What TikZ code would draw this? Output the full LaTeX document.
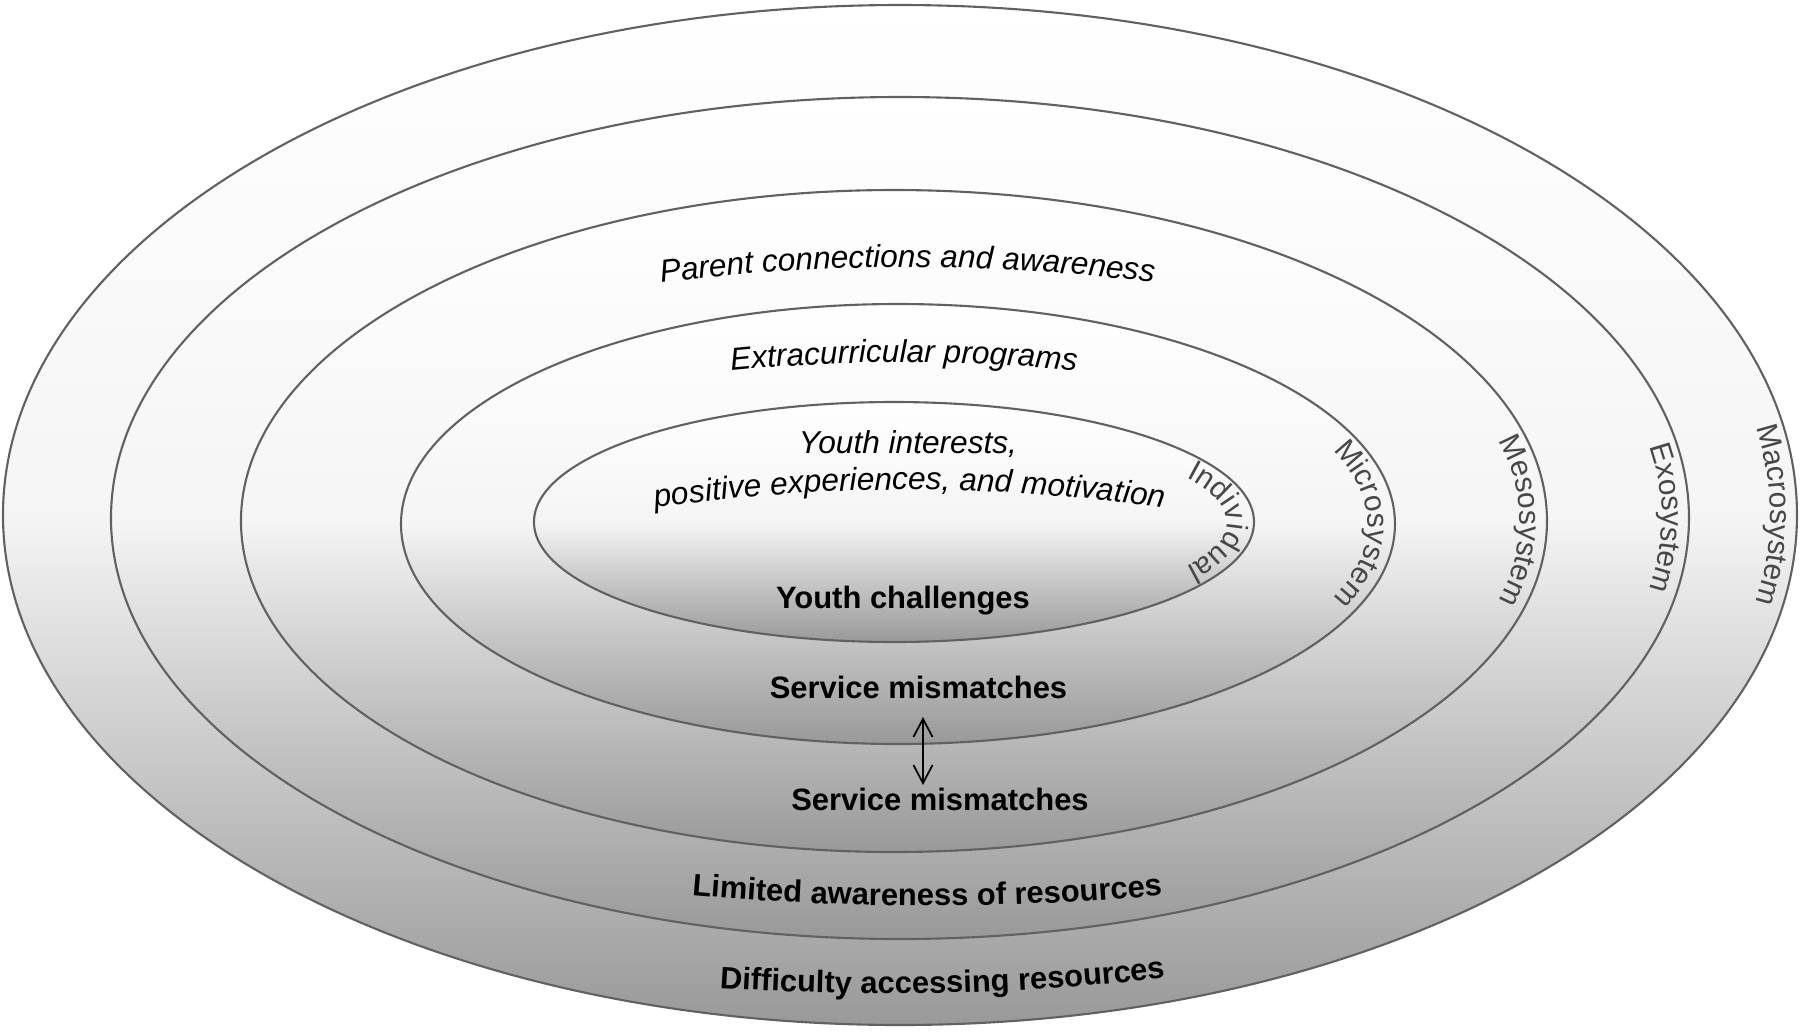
\documentclass[tikz,border=0pt]{standalone}
\usepackage{fontspec}
\setmainfont{Liberation Sans}
\usetikzlibrary{decorations.text,arrows.meta}

\newcommand{\itfont}{\fontsize{9}{10}\selectfont\itshape}
\newcommand{\bffont}{\fontsize{8.8}{10}\selectfont\bfseries}
\newcommand{\sysfont}{\fontsize{8.5}{10}\selectfont\color{black!72}}

\tikzset{
  ring/.style={draw=black!62, line width=0.6pt, top color=white, bottom color=black!40, middle color=black!4},
  arctext/.style={decorate, decoration={text along path, text align=center, text={#1}}},
  syslabel/.style={decorate, decoration={text along path, text align=center, text={|\sysfont|#1}}}
}

\begin{document}
\begin{tikzpicture}
	\useasboundingbox (-8.97, -5.12) rectangle (9.03, 5.20);
	\coordinate (Macro) at (0.03, 0.05);
	\coordinate (Exo) at (0.03, 0.02);
	\coordinate (Meso) at (-0.03, -0.01);
	\coordinate (Micro) at (0.01, -0.04);
	\coordinate (Indiv) at (-0.03, -0.02);
	
	% the five systems
	\draw[ring] (Macro) ellipse [x radius=8.97, y radius=5.10];
	\draw[ring] (Exo) ellipse [x radius=7.89, y radius=4.21];
	\draw[ring] (Meso) ellipse [x radius=6.53, y radius=3.31];
	\draw[ring] (Micro) ellipse [x radius=4.97, y radius=2.20];
	\draw[ring] (Indiv) ellipse [x radius=3.60, y radius=1.20];
	
	% names along the right side
	\path[syslabel=Macrosystem] (0.03, 4.88) arc[start angle=90, end angle=-90, x radius=8.70, y radius=4.83];
	\path[syslabel=Exosystem] (0.03, 3.96) arc[start angle=90, end angle=-90, x radius=7.62, y radius=3.94];
	\path[syslabel=Mesosystem] (-0.03, 3.03) arc[start angle=90, end angle=-90, x radius=6.26, y radius=3.04];
	\path[syslabel=Microsystem] (0.01, 1.89) arc[start angle=90, end angle=-90, x radius=4.70, y radius=1.93];
	\path[syslabel=Individual] (-0.03, 0.91) arc[start angle=90, end angle=-90, x radius=3.33, y radius=0.93];
	
	% upper texts
	\path[arctext={|\itfont|Parent connections and awareness}] (-2.89, 2.30) arc[start angle=98.7, end angle=81.3, radius=19.8];
	\path[arctext={|\itfont|Extracurricular programs}] (-2.13, 1.44) arc[start angle=97.1, end angle=82.9, radius=17.8];
	\node[anchor=base, font=\itfont] (Interests) at (0.11, 0.67) {Youth interests,};
	\path[arctext={|\itfont|positive experiences, and motivation}] (-2.86, 0.05) arc[start angle=99.66, end angle=80.34, radius=17.8];
	
	% lower texts
	\node[anchor=base, font=\bffont] (Challenges) at (0.06, -0.88) {Youth challenges};
	\node[anchor=base, font=\bffont] (MismatchA) at (0.215, -1.78) {Service mismatches};
	\node[anchor=base, font=\bffont] (MismatchB) at (0.43, -2.90) {Service mismatches};
	\path[arctext={|\bffont|Limited awareness of resources}] (-2.50, -3.71) arc[start angle=264, end angle=276, radius=26.8];
	\path[arctext={|\bffont|Difficulty accessing resources}] (-2.43, -4.63) arc[start angle=264.8, end angle=277.8, radius=25.5];
	
	\coordinate (ArrowTop) at (0.26, -1.97);
	\coordinate (ArrowBottom) at (0.26, -2.65);
	\draw[>={Straight Barb[length=1.8mm, width=1.9mm]}, <->, line width=0.5pt] (ArrowTop) -- (ArrowBottom);
\end{tikzpicture}
\end{document}
